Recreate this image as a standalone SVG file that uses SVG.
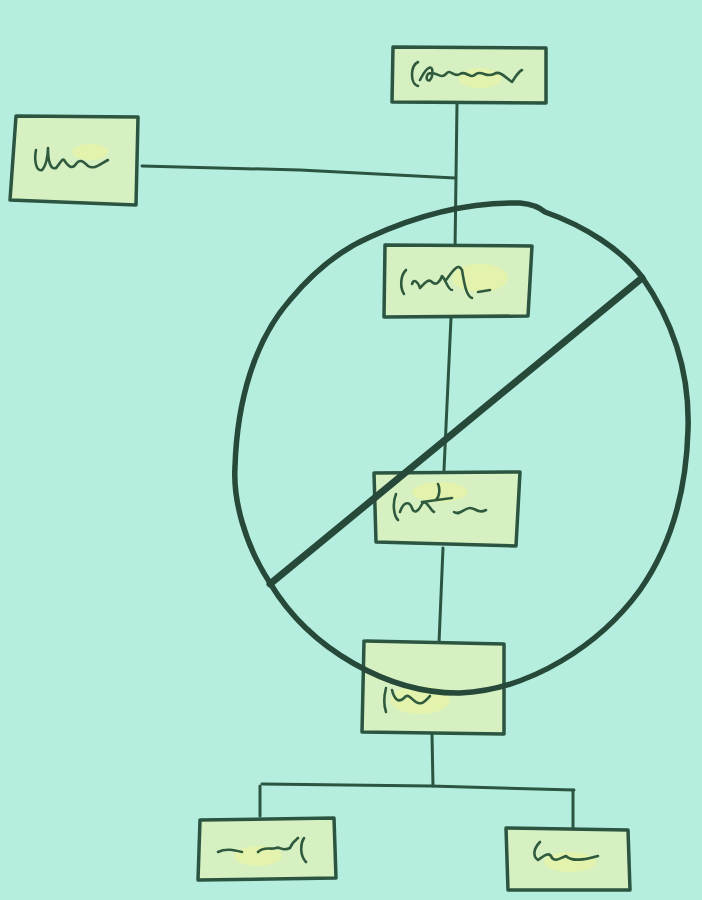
<svg xmlns="http://www.w3.org/2000/svg" width="702" height="900" viewBox="0 0 702 900">
<defs>
<style>
.bg{fill:#b5eedf}
.box{fill:#d6f0c2;stroke:#2b5541;stroke-width:3.5;stroke-linejoin:round;stroke-linecap:round}
.hl{fill:#e8f3a4;opacity:0.7}
.ink{fill:none;stroke:#2b5541;stroke-width:3;stroke-linecap:round;stroke-linejoin:round}
.scr{fill:none;stroke:#2f5a3e;stroke-width:2.6;stroke-linecap:round;stroke-linejoin:round}
.heavy{fill:none;stroke:#27493a;stroke-width:5.5;stroke-linecap:round;stroke-linejoin:round}
.bold{fill:none;stroke:#27493a;stroke-width:7;stroke-linecap:round}
</style>
</defs>
<rect class="bg" x="0" y="0" width="702" height="900"/>

<g id="connectors">
<path class="ink" d="M457,104 L455,250"/>
<path class="ink" d="M142,166 L300,170 L455,178"/>
<path class="ink" d="M451,318 L444,470"/>
<path class="ink" d="M443,548 L439,643"/>
<path class="ink" d="M432,734 L433,786"/>
<path class="ink" d="M262,784 L430,786 L574,790"/>
<path class="ink" d="M260,786 L260,816"/>
<path class="ink" d="M573,790 L573,828"/>
</g>

<g id="node-top">
<path class="box" d="M393,47 L546,48 L546,103 L392,102 Z"/>
<ellipse class="hl" cx="480" cy="78" rx="22" ry="10"/>
<path class="scr" d="M418,62 C410,66 410,84 418,86 M420,80 C428,64 434,64 432,76 C430,84 424,80 428,74 C436,70 440,80 446,74 C450,68 454,78 460,74 C466,70 470,80 476,74 C482,70 486,78 494,74 C500,70 506,78 512,82 C516,76 518,72 522,70"/>
</g>

<g id="node-left">
<path class="box" d="M16,116 L138,117 L136,205 L10,200 Z"/>
<ellipse class="hl" cx="90" cy="152" rx="18" ry="8"/>
<path class="scr" d="M36,150 C34,160 36,172 42,170 C46,166 48,156 48,148 C48,160 50,170 56,168 C60,164 62,158 64,160 C68,166 72,170 76,164 C80,158 84,162 88,166 C94,170 100,164 108,160"/>
</g>

<g id="node-2">
<path class="box" d="M386,245 L532,246 L528,316 L384,317 L385,245"/>
<ellipse class="hl" cx="480" cy="278" rx="28" ry="14"/>
<path class="scr" d="M406,270 C400,276 400,288 404,294 M412,284 C414,278 418,282 420,288 C424,284 428,278 432,282 C436,286 440,282 442,276 C446,280 448,290 452,290 M446,280 C452,272 458,262 462,270 C464,282 466,296 472,298 M478,292 L490,290"/>
</g>

<g id="node-3">
<path class="box" d="M374,473 L520,472 L516,546 L376,542 Z"/>
<ellipse class="hl" cx="440" cy="492" rx="28" ry="10"/>
<path class="scr" d="M396,494 C392,504 394,516 398,520 M400,512 C404,500 410,502 412,508 C414,514 418,512 422,504 C426,498 430,510 434,512 M422,502 L452,498 M438,484 C440,488 440,496 436,500 M454,512 C460,516 464,508 470,508 C476,508 478,514 486,510"/>
</g>

<g id="node-4">
<path class="box" d="M366,641 L504,644 L504,734 L362,732 L364,641"/>
<ellipse class="hl" cx="420" cy="700" rx="30" ry="14"/>
<path class="scr" d="M386,688 C384,696 384,706 386,712 M392,690 C394,698 398,704 404,698 C408,692 412,700 416,702 C422,706 426,700 430,696 M450,694 L458,692"/>
</g>

<g id="node-5">
<path class="box" d="M200,820 L334,818 L336,878 L198,880 Z"/>
<ellipse class="hl" cx="258" cy="856" rx="24" ry="10"/>
<path class="scr" d="M218,852 C226,848 234,850 242,852 M258,852 C264,846 270,850 276,848 C280,846 282,852 290,848 C292,842 296,840 298,838 M304,838 C300,844 300,856 306,862"/>
</g>

<g id="node-6">
<path class="box" d="M506,828 L628,830 L630,890 L508,890 L506,828"/>
<ellipse class="hl" cx="570" cy="862" rx="26" ry="10"/>
<path class="scr" d="M540,842 C534,848 532,856 538,860 C546,854 550,852 552,858 C556,862 560,858 566,856 C572,862 584,860 598,856"/>
</g>

<g id="ban">
<path class="heavy" d="M545,212 C585,226 622,250 642,277 C672,320 690,370 688,430 C686,500 668,550 640,590 C600,645 530,690 460,693 C390,694 310,650 270,583 C245,545 233,500 235,467 C237,400 255,340 290,300 C315,270 340,250 370,237 C420,214 470,202 520,203 C530,204 538,206 545,212 Z"/>
<path class="bold" d="M270,584 L642,278"/>
</g>
</svg>
